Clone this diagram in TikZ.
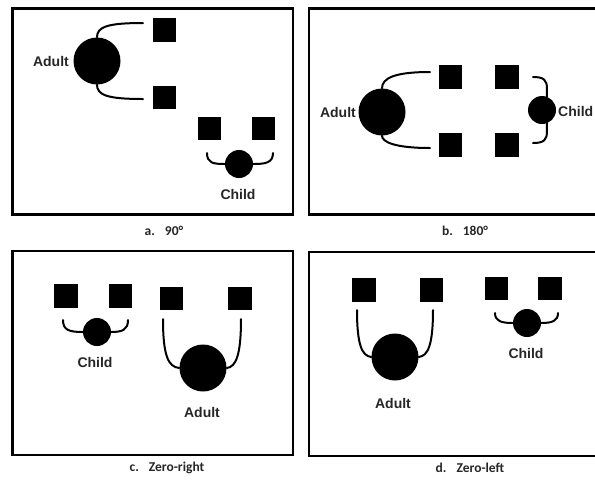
\documentclass[tikz,border=0pt]{standalone}
\usepackage{fontspec}
\setmainfont{Liberation Sans}
\newfontfamily\capfont{Carlito}
\begin{document}
\begin{tikzpicture}[x=1pt,y=-1pt,
  frame/.style={line width=2.8pt, draw=black},
  sq/.style={rectangle, fill=black, minimum width=23.5pt, minimum height=23.5pt, inner sep=0pt},
  adult/.style={circle, fill=black, minimum size=47pt, inner sep=0pt},
  child/.style={circle, fill=black, minimum size=28pt, inner sep=0pt},
  arm/.style={line width=2pt, line cap=round},
  lbl/.style={font=\fontsize{14}{16}\selectfont\bfseries, text=black!85, inner sep=0pt},
  captxt/.style={font=\capfont\fontsize{13.5}{15}\selectfont\bfseries, text=black!85, inner sep=0pt}]
\useasboundingbox (0,0) rectangle (595,483);
\clip (0,0) rectangle (595,483);
% frames
\draw[frame] (12.3,8.3) rectangle (293,214.5);
\draw[frame] (309,8.5) rectangle (610,214.5);
\draw[frame] (12.3,251) rectangle (293,455);
\draw[frame] (309,252) rectangle (610,456);

% ---- a. 90
\node[adult] (aA) at (97,61) {};
\node[lbl, anchor=east] (aAl) at (69,61) {Adult};
\node[sq] (aS1) at (164.5,30) {};
\node[sq] (aS2) at (164.5,97.5) {};
\coordinate (aE1) at (143,23);
\coordinate (aE2) at (143,99);
\draw[arm] (aA.north) .. controls (97,27) and (107,23) .. (aE1);
\draw[arm] (aA.south) .. controls (97,95) and (107,99) .. (aE2);
\node[sq] (aS3) at (209.5,128.5) {};
\node[sq] (aS4) at (263.5,128.5) {};
\node[child] (aC) at (239,164) {};
\node[lbl] (aCl) at (238,194) {Child};
\coordinate (aE3) at (207,153);
\coordinate (aE4) at (273,153);
\draw[arm] (aC.west) .. controls (213,164) and (207,163) .. (aE3);
\draw[arm] (aC.east) .. controls (265,164) and (273,163) .. (aE4);
\node[captxt] (capa) at (164,231) {a.\hspace{10pt}90°};

% ---- b. 180
\node[adult] (bA) at (382,112) {};
\node[lbl, anchor=east] (bAl) at (356,112) {Adult};
\node[sq] (bS1) at (450.5,77) {};
\node[sq] (bS2) at (507,77) {};
\node[sq] (bS3) at (450.5,145) {};
\node[sq] (bS4) at (507,145) {};
\coordinate (bE1) at (430,72);
\coordinate (bE2) at (430,148);
\draw[arm] (bA.north) .. controls (382,78) and (395,72) .. (bE1);
\draw[arm] (bA.south) .. controls (382,142) and (395,148) .. (bE2);
\node[child] (bC) at (542,110) {};
\node[lbl, anchor=west] (bCl) at (558,111) {Child};
\coordinate (bE3) at (533,77);
\coordinate (bE4) at (533,143);
\draw[arm] (bC.70) -- (547,89) .. controls (547,80) and (544,77) .. (bE3);
\draw[arm] (bC.-70) -- (547,131) .. controls (547,140) and (544,143) .. (bE4);
\node[captxt] (capb) at (465,231) {b.\hspace{10pt}180°};

% ---- c. Zero-right
\node[sq] (cS1) at (66,296) {};
\node[sq] (cS2) at (120.5,296) {};
\node[child] (cC) at (97,332) {};
\node[lbl] (cCl) at (95,362) {Child};
\coordinate (cE1) at (63,320);
\coordinate (cE2) at (128,320);
\draw[arm] (cC.west) .. controls (69,332) and (63,330) .. (cE1);
\draw[arm] (cC.east) .. controls (122,332) and (128,330) .. (cE2);
\node[sq] (cS3) at (171.5,298.5) {};
\node[sq] (cS4) at (240,298.5) {};
\node[adult] (cA) at (203,368) {};
\node[lbl] (cAl) at (202,412) {Adult};
\coordinate (cE3) at (163,319);
\coordinate (cE4) at (241,319);
\draw[arm] (cA.west) .. controls (168,367) and (163,355) .. (cE3);
\draw[arm] (cA.east) .. controls (236,367) and (241,355) .. (cE4);
\node[captxt] (capc) at (167,468) {c.\hspace{10pt}Zero-right};

% ---- d. Zero-left
\node[sq] (dS1) at (364,290) {};
\node[sq] (dS2) at (431.5,290) {};
\node[adult] (dA) at (395,357) {};
\node[lbl] (dAl) at (393,403) {Adult};
\coordinate (dE1) at (357,310);
\coordinate (dE2) at (433,310);
\draw[arm] (dA.west) .. controls (362,356) and (357,345) .. (dE1);
\draw[arm] (dA.east) .. controls (428,356) and (433,345) .. (dE2);
\node[sq] (dS3) at (496.5,288.5) {};
\node[sq] (dS4) at (550,288.5) {};
\node[child] (dC) at (527,323) {};
\node[lbl] (dCl) at (526,353) {Child};
\coordinate (dE3) at (495,313);
\coordinate (dE4) at (558,313);
\draw[arm] (dC.west) .. controls (501,323) and (495,321) .. (dE3);
\draw[arm] (dC.east) .. controls (552,323) and (558,321) .. (dE4);
\node[captxt] (capd) at (470,468) {d.\hspace{10pt}Zero-left};
\end{tikzpicture}
\end{document}
